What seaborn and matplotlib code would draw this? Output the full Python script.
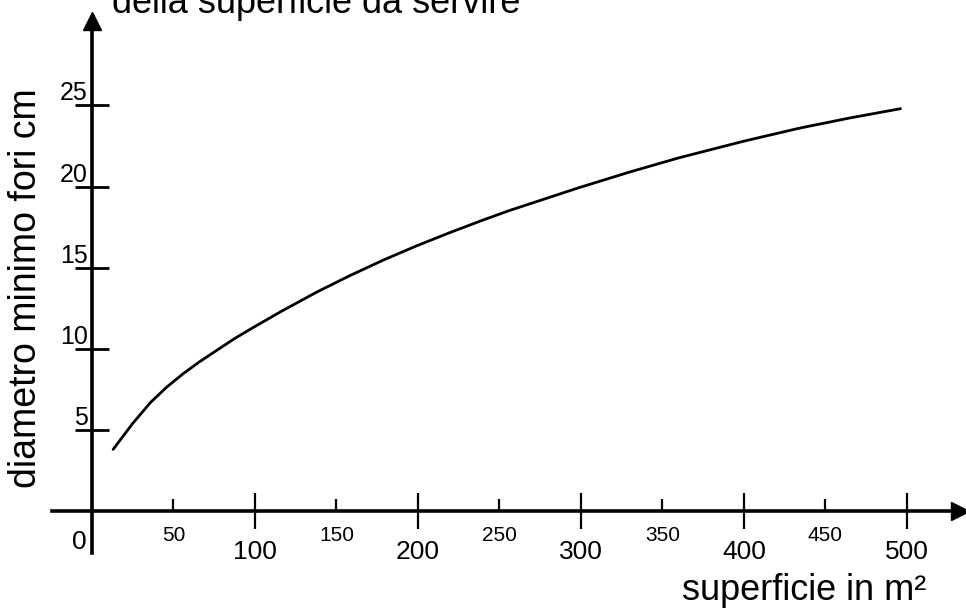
import matplotlib
matplotlib.use("Agg")
import matplotlib.pyplot as plt
import seaborn as sns
import pandas as pd

# ==========================================
# DATA
# ==========================================
superficie = [13, 25, 36, 46, 56, 66, 87, 97, 116, 138, 158, 179, 199, 220, 240,
              256, 299, 330, 360, 400, 434, 465, 496]
diametro = [3.8, 5.4, 6.7, 7.65, 8.47, 9.2, 10.6, 11.2, 12.3, 13.5, 14.5, 15.48, 16.34,
            17.18, 17.94, 18.52, 19.94, 20.9, 21.77, 22.8, 23.6, 24.23, 24.8]

x_major_ticks = [100, 200, 300, 400, 500]
x_minor_ticks = [50, 150, 250, 350, 450]
y_ticks = [5, 10, 15, 20, 25]

title_text = "della superficie da servire"
x_label = "superficie in m²"
y_label = "diametro minimo fori cm"

df = pd.DataFrame({"superficie": superficie, "diametro": diametro})

# ==========================================
# STYLE
# ==========================================
sns.set_theme(style="white")
plt.rcParams["font.family"] = ["Liberation Sans", "DejaVu Sans"]

fig = plt.figure(figsize=(9.66, 6.10), dpi=100)
ax = fig.add_axes([0, 0, 1, 1])
ax.patch.set_alpha(0)

sns.lineplot(data=df, x="superficie", y="diametro", color="black", lw=2.0, ax=ax)

ax.set_xlim(-56.4, 536.2)
ax.set_ylim(-6.1, 31.5)

# axes drawn through the origin, with arrows
for side in ["top", "right"]:
    ax.spines[side].set_visible(False)
ax.spines["left"].set_position(("data", 0))
ax.spines["bottom"].set_position(("data", 0))
ax.spines["left"].set_bounds(-2.6, 29.5)
ax.spines["bottom"].set_bounds(-24.5, 529)
for side in ["left", "bottom"]:
    ax.spines[side].set_linewidth(2.6)
    ax.spines[side].set_color("black")
ax.plot(532.5, 0, ">", color="black", ms=13, clip_on=False)
ax.plot(0, 30.2, "^", color="black", ms=13, clip_on=False)

# ticks
ax.set_xticks(x_major_ticks, labels=[str(v) for v in x_major_ticks])
ax.set_xticks(x_minor_ticks, labels=[str(v) for v in x_minor_ticks], minor=True)
ax.set_yticks(y_ticks, labels=[str(v) for v in y_ticks])
ax.tick_params(axis="both", which="both", bottom=True, left=True, top=False, right=False)
ax.tick_params(axis="x", which="major", direction="inout", length=26, width=1.6,
               pad=8, labelsize=19, colors="black")
ax.tick_params(axis="x", which="minor", direction="in", length=9, width=1.6,
               pad=11, labelsize=15, colors="black")
ax.tick_params(axis="y", which="major", direction="inout", length=24, width=2.0,
               pad=-9, labelsize=18, colors="black")
for lab in ax.get_yticklabels():
    lab.set_verticalalignment("bottom")
ax.grid(False)

ax.text(-7.5, -1.9, "0", fontsize=19, ha="center", va="center", color="black")

# labels
ax.set_xlabel(x_label, fontsize=26, color="black")
ax.xaxis.set_label_coords(0.832, 0.06)
ax.set_ylabel(y_label, fontsize=27, color="black")
ax.yaxis.set_label_coords(0.046, 0.527)
ax.text(12.3, 30.7, title_text, fontsize=26, ha="left", va="baseline", color="black")

fig.savefig("out.png", dpi=100)
